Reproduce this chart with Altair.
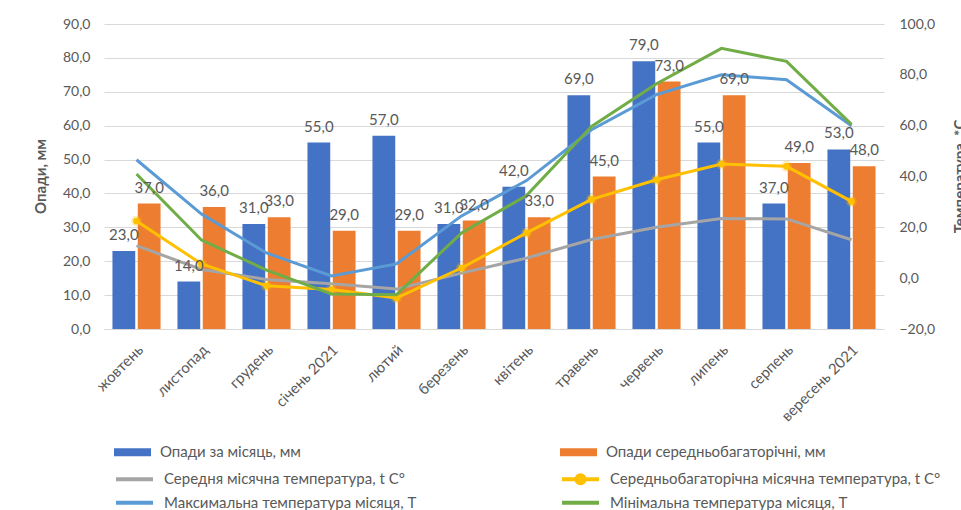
import altair as alt
import pandas as pd

# --- data -------------------------------------------------------------
months = ["жовтень", "листопад", "грудень", "січень 2021", "лютий", "березень",
          "квітень", "травень", "червень", "липень", "серпень", "вересень 2021"]

precip_month = [23, 14, 31, 55, 57, 31, 42, 69, 79, 55, 37, 53]
precip_norm = [37, 36, 33, 29, 29, 32, 33, 45, 73, 69, 49, 48]

t_mean = [12.8, 3.4, -0.5, -2.2, -4.3, 2.0, 7.9, 15.2, 20.0, 23.5, 23.3, 15.1]
t_norm = [22.5, 5.6, -3.0, -4.5, -7.8, 4.0, 17.8, 31.0, 38.7, 44.9, 44.0, 30.2]
t_max = [46.6, 25.2, 9.9, 0.9, 5.6, 24.5, 38.4, 58.4, 72.2, 80.0, 78.1, 60.0]
t_min = [41.0, 15.0, 3.2, -6.2, -6.5, 17.8, 32.5, 59.7, 76.5, 90.4, 85.3, 60.5]

S_PM = "Опади за місяць, мм"
S_PN = "Опади середньобагаторічні, мм"
S_TM = "Середня місячна температура,  t C°"
S_TN = "Середньобагаторічна місячна температура,  t C°"
S_TX = "Максимальна температура  місяця, T"
S_TI = "Мінімальна температура  місяця, T"

C_PM, C_PN = "#4472C4", "#ED7D31"
C_TM, C_TN, C_TX, C_TI = "#A5A5A5", "#FFC000", "#5B9BD5", "#70AD47"

TEXT = "#595959"
GRID = "#D9D9D9"

bars = pd.DataFrame({
    "month": months * 2,
    "series": [S_PM] * 12 + [S_PN] * 12,
    "value": precip_month + precip_norm,
})
bars["label"] = bars["value"].map(lambda v: f"{v:.1f}".replace(".", ","))

temps = pd.DataFrame({
    "month": months * 4,
    "series": [S_TM] * 12 + [S_TN] * 12 + [S_TX] * 12 + [S_TI] * 12,
    "value": t_mean + t_norm + t_max + t_min,
})

# --- shared encodings -------------------------------------------------
comma_fmt = "replace(format(datum.value, '.1f'), '.', ',')"

x_enc = alt.X(
    "month:N", sort=months, title=None,
    scale=alt.Scale(paddingInner=0.26, paddingOuter=0.13),
    axis=alt.Axis(labelAngle=315, labelAlign="right", labelBaseline="top",
                  labelPadding=13, labelOffset=-1, ticks=False,
                  domainColor=GRID, domainWidth=1, grid=False,
                  labelFontSize=15),
)
xoff = alt.XOffset("series:N", scale=alt.Scale(domain=[S_PM, S_PN],
                                               paddingInner=0.1, paddingOuter=0))

y_precip = alt.Y(
    "value:Q", scale=alt.Scale(domain=[0, 90], nice=False, zero=False),
    axis=alt.Axis(values=list(range(0, 91, 10)), labelExpr=comma_fmt,
                  title="Опади, мм", titleAngle=270, titleX=-64, titleY=152,
                  titleAlign="center", titleBaseline="middle",
                  grid=True, gridColor=GRID, gridWidth=1,
                  domain=False, ticks=False, labelPadding=14),
)
y_label = alt.Y("value:Q", scale=alt.Scale(domain=[0, 90], nice=False, zero=False),
                axis=None)
y_temp = alt.Y(
    "value:Q", scale=alt.Scale(domain=[-20, 100], nice=False, zero=False),
    axis=alt.Axis(orient="right", values=list(range(-20, 101, 20)),
                  labelExpr=comma_fmt, title="Температура, *С",
                  titleAngle=270, titleX=75, titleY=152,
                  titleAlign="center", titleBaseline="middle",
                  grid=False, domain=False, ticks=False, labelPadding=15),
)

BAR_SYMBOL = "M-1,-0.22L1,-0.22L1,0.22L-1,0.22Z"
DOT_LINE_SYMBOL = ("M-1,0L1,0M-0.22,0A0.22,0.22,0,1,0,0.22,0"
                   "A0.22,0.22,0,1,0,-0.22,0")
SYM = 1369  # 37 px wide symbols


def legend(x, y, **kw):
    return alt.Legend(orient="none", legendX=x, legendY=y, title=None,
                      symbolSize=SYM, labelLimit=500, **kw)


COL1, COL2 = 10, 456
ROW1, ROW2, ROW3 = 409.8, 434.8, 458.2


def bar_layer(series, color, lx, ly):
    return alt.Chart(bars).transform_filter(
        alt.datum.series == series
    ).mark_bar().encode(
        x=x_enc, xOffset=xoff, y=y_precip,
        color=alt.Color("series:N", scale=alt.Scale(domain=[series], range=[color]),
                        legend=legend(lx, ly, symbolType=BAR_SYMBOL,
                                      symbolStrokeWidth=0, symbolFillColor=color)),
    )


def line_layer(series, color, lx, ly, **legend_kw):
    return alt.Chart(temps).transform_filter(
        alt.datum.series == series
    ).mark_line(strokeWidth=3).encode(
        x=x_enc, y=y_temp,
        color=alt.Color("series:N", scale=alt.Scale(domain=[series], range=[color]),
                        legend=legend(lx, ly, symbolStrokeWidth=4, **legend_kw)),
    )


def label_layer(series):
    return alt.Chart(bars).transform_filter(
        alt.datum.series == series
    ).mark_text(dy=-16, baseline="middle", fontSize=15, color=TEXT).encode(
        x=x_enc, xOffset=xoff, y=y_label, text="label:N",
    )


bar_group = alt.layer(
    bar_layer(S_PM, C_PM, COL1, ROW1),
    bar_layer(S_PN, C_PN, COL2, ROW1),
).resolve_scale(color="independent")

norm_points = alt.Chart(temps).transform_filter(alt.datum.series == S_TN)

line_group = alt.layer(
    line_layer(S_TM, C_TM, COL1, ROW2, symbolType="stroke"),
    line_layer(S_TN, C_TN, COL2, ROW2, symbolType=DOT_LINE_SYMBOL,
               symbolFillColor=C_TN),
    norm_points.mark_circle(size=120, color=C_TN, opacity=0.3).encode(x=x_enc, y=y_temp),
    norm_points.mark_circle(size=45, color=C_TN, opacity=1).encode(x=x_enc, y=y_temp),
    line_layer(S_TX, C_TX, COL1, ROW3, symbolType="stroke"),
    line_layer(S_TI, C_TI, COL2, ROW3, symbolType="stroke"),
).resolve_scale(color="independent")

label_group = alt.layer(label_layer(S_PM), label_layer(S_PN))

chart = alt.layer(bar_group, line_group, label_group).resolve_scale(
    y="independent", color="independent"
).properties(
    width=780, height=305,
    autosize=alt.AutoSizeParams(type="none"),
    padding={"left": 104, "top": 24, "right": 77, "bottom": 181},
    background="white",
).configure(
    font="Lato",
).configure_view(
    stroke=None,
).configure_axis(
    labelFont="Lato", labelColor=TEXT, labelFontSize=14,
    titleFont="Lato", titleColor=TEXT, titleFontSize=15, titleFontWeight="bold",
).configure_legend(
    labelFont="Lato", labelFontSize=15, labelColor=TEXT,
    padding=0, labelOffset=9,
)

chart.save("out.html", embed_options={"renderer": "svg", "actions": False})
